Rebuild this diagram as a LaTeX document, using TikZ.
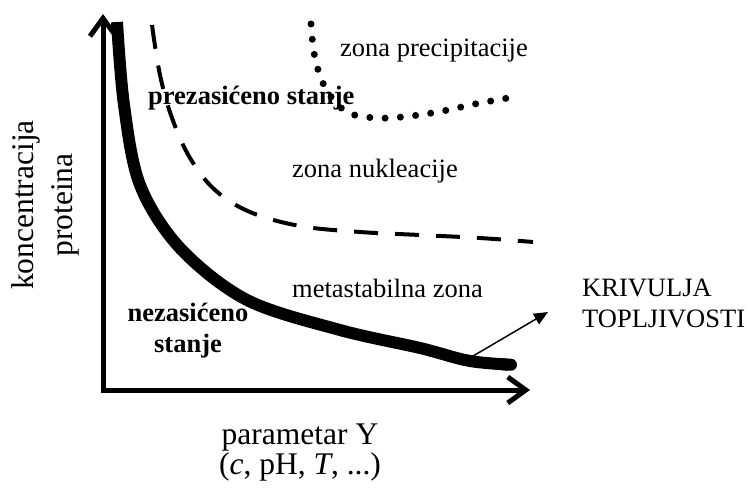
\documentclass[tikz,border=0pt]{standalone}
\usepackage{fontspec}
\setmainfont{Liberation Serif}
\usetikzlibrary{arrows.meta}
\tikzset{>=Stealth}
\newcommand\lblfont{\fontsize{26.5}{30.5}\selectfont}
\newcommand\axfont{\fontsize{31.5}{30}\selectfont}

\begin{document}
\begin{tikzpicture}[x=1pt,y=-1pt,
    axis/.style={line width=5pt,{Straight Barb[length=18pt,width=26pt]}-{Straight Barb[length=18pt,width=26pt]}},
    solub/.style={line width=12pt,-{Round Cap[]}},
    nukl/.style={line width=4pt,dash pattern=on 24pt off 17pt},
    precip/.style={line width=7pt,line cap=round,dash pattern=on 0pt off 15.3pt},
    pointer/.style={line width=1.5pt,-{Triangle[length=14pt,width=12pt]}},
    lbl/.style={inner sep=0pt,font=\lblfont},
    axlbl/.style={inner sep=0pt,font=\axfont,align=center,anchor=base}]
        \useasboundingbox (0,0) rectangle (747,489);
        \coordinate (Ytop) at (103,14);
        \coordinate (O) at (103,390);
        \coordinate (Xend) at (530,390);
        \coordinate (S) at (468,359);
        \coordinate (T) at (548,312);
        \draw[axis] (Ytop)--(O)--(Xend);
        \draw[solub] plot[smooth,tension=0.55] coordinates {(117,22) (124,105) (140,185) (180,248) (247,300) (340,330) (420,348) (470,361) (517,365)};
        \draw[nukl] plot[smooth,tension=0.6] coordinates {(152,25) (160,75) (172,118) (190,158) (215,190) (250,212) (300,226) (360,232) (420,235) (480,238) (533,242)};
        \draw[precip] plot[smooth,tension=0.6] coordinates {(311,24) (315,58) (326,89) (347,112) (378,118) (411,116) (443,111) (475,104) (508,98)};
        \draw[pointer] (S)--(T);
        \node[lbl,anchor=base west] (precip) at (340,57) {zona precipitacije};
        \node[lbl,anchor=base west,font=\lblfont\bfseries] (prezas) at (148,105) {prezasićeno stanje};
        \node[lbl,anchor=base west] (nukleac) at (292,178) {zona nukleacije};
        \node[lbl,anchor=base west] (metast) at (292,297) {metastabilna zona};
        \node[lbl,anchor=base,align=center,font=\lblfont\bfseries] (nezas) at (188,352) {nezasićeno\\stanje};
        \node[lbl,anchor=base west,align=left] (krivulja) at (582,327) {KRIVULJA\\TOPLJIVOSTI};
        \node[axlbl] (xlab) at (300,474) {parametar Y\\(\textit{c}, pH, \textit{T}, ...)};
        \node[axlbl,rotate=90] (ylab) at (72,205) {koncentracija\\[9pt]proteina};
      \end{tikzpicture}
\end{document}
